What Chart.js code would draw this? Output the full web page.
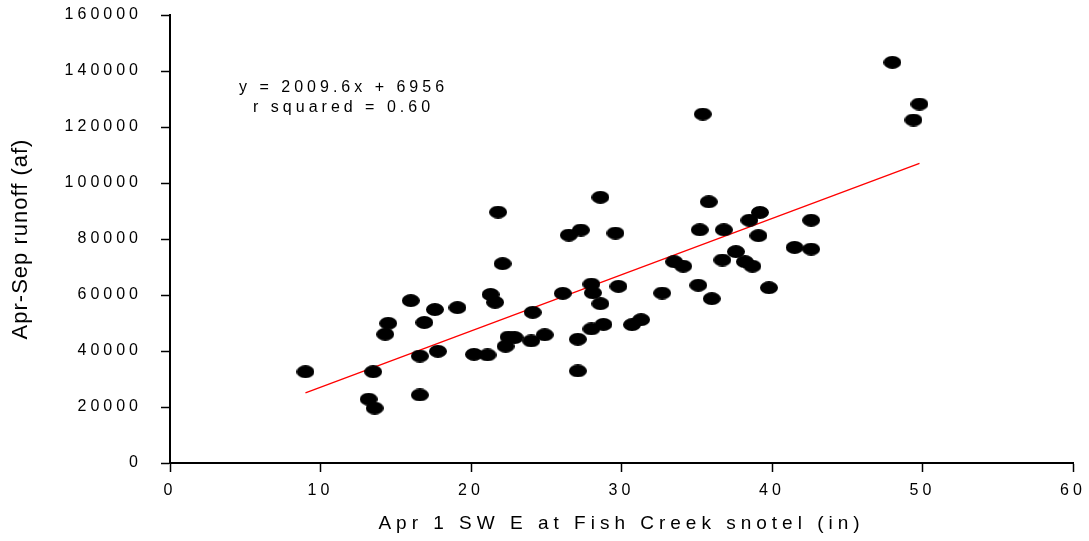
<!DOCTYPE html>
<html>
<head>
<meta charset="utf-8">
<title>Apr-Sep runoff vs Apr 1 SWE</title>
<script src="https://cdn.jsdelivr.net/npm/chart.js@4"></script>
<style>
    html, body { margin: 0; padding: 0; background: #fff; }
    #wrap { width: 1089px; height: 541px; position: relative; }
</style>
</head>
<body>
<div id="wrap"><canvas id="scatterChart"></canvas></div>
<script>
// --- Dữ liệu: SWE ngày 1/4 (in) và lưu lượng Apr-Sep (af) ---
const swe = [
    9.0, 13.2, 13.6, 13.5, 14.3, 14.5, 16.0, 16.6, 16.6, 16.9,
    17.6, 17.8, 19.1, 20.2, 21.1, 21.3, 21.6, 21.8, 22.1, 22.3,
    22.5, 22.9, 24.0, 24.1, 24.9, 26.1, 26.5, 27.1, 27.1, 27.3,
    28.6, 29.6, 28.0, 28.1, 28.6, 29.8, 28.0, 28.8, 30.7, 31.3,
    32.7, 33.5, 34.1, 35.1, 36.0, 35.2, 36.8, 35.8, 36.7, 37.6,
    38.2, 38.7, 38.5, 39.2, 39.1, 39.8, 41.5, 42.6, 42.6, 35.4,
    48.0, 49.8, 49.4
];
const runoff = [
    32600, 22800, 19600, 32600, 46000, 49900, 58000, 38200, 24300, 50200,
    54800, 39900, 55500, 38800, 38600, 60200, 57400, 89600, 71200, 41700,
    45000, 44800, 43600, 53800, 45800, 60600, 81400, 44200, 32900, 83200,
    94900, 82100, 63900, 60800, 56900, 63100, 47900, 49500, 49400, 51200,
    60700, 71900, 70300, 63500, 58700, 83300, 83300, 93300, 72500, 75500,
    71900, 70300, 86700, 89500, 81200, 62600, 77000, 76400, 86700, 124600,
    143100, 128200, 122500
];

// Đường hồi quy (theo phương trình ghi trên biểu đồ)
const slope = 2009.6;
const intercept = 6956;
const equationLines = ['y = 2009.6x + 6956', 'r squared = 0.60'];

// Trục
const xTicks = [0, 10, 20, 30, 40, 50, 60];
const yTicks = [0, 20000, 40000, 60000, 80000, 100000, 120000, 140000, 160000];

const FONT = "'Liberation Sans', Arial, sans-serif";

// Điểm hình elip màu đen
function makeEllipse(w, h) {
    const c = document.createElement('canvas');
    c.width = w;
    c.height = h;
    const g = c.getContext('2d');
    g.fillStyle = '#000';
    g.beginPath();
    g.ellipse(w / 2, h / 2, w / 2, h / 2, 0, 0, Math.PI * 2);
    g.fill();
    return c;
}
const dot = makeEllipse(18, 13);

const points = swe.map((x, i) => ({ x: x, y: runoff[i] }));
const xMin = Math.min(...swe);
const xMax = Math.max(...swe);
const fitLine = [xMin, xMax].map(x => ({ x: x, y: slope * x + intercept }));

// Giãn khoảng cách chữ cho nhãn trục / tiêu đề trục
const spacing = {
    x: { labels: '4px', title: '5px' },
    y: { labels: '4px', title: '1px' }
};
const letterSpacingPlugin = {
    id: 'letterSpacing',
    afterUpdate(chart) {
        const ctx = chart.ctx;
        Object.values(chart.scales).forEach(scale => {
            if (scale._spaced || !spacing[scale.id]) return;
            const s = spacing[scale.id];
            const origTitle = scale.drawTitle;
            const origLabels = scale.drawLabels;
            scale.drawTitle = function (...args) {
                ctx.save();
                ctx.letterSpacing = s.title;
                origTitle.apply(this, args);
                ctx.restore();
            };
            scale.drawLabels = function (...args) {
                ctx.save();
                ctx.letterSpacing = s.labels;
                origLabels.apply(this, args);
                ctx.restore();
            };
            scale._spaced = true;
        });
    }
};

// Phương trình + r² ở góc trên trái
const equationPlugin = {
    id: 'equation',
    afterDraw(chart) {
        const ctx = chart.ctx;
        const cx = chart.scales.x.getPixelForValue(11.4);
        const y1 = chart.scales.y.getPixelForValue(133900);
        ctx.save();
        ctx.letterSpacing = '4px';
        ctx.font = '16px ' + FONT;
        ctx.fillStyle = '#000';
        ctx.textAlign = 'center';
        ctx.textBaseline = 'middle';
        equationLines.forEach((t, i) => ctx.fillText(t, cx + 2, y1 + i * 20));
        ctx.restore();
    }
};

const ctx = document.getElementById('scatterChart').getContext('2d');
new Chart(ctx, {
    type: 'scatter',
    data: {
        datasets: [
            {
                label: 'Observed',
                data: points,
                pointStyle: dot,
                pointRadius: 8,
                showLine: false,
                order: 1
            },
            {
                type: 'line',
                label: 'Fit',
                data: fitLine,
                borderColor: '#ff0000',
                borderWidth: 1.3,
                pointRadius: 0,
                fill: false,
                order: 2
            }
        ]
    },
    options: {
        responsive: true,
        maintainAspectRatio: false,
        animation: false,
        layout: { autoPadding: false, padding: { top: 15, right: 16, left: 0, bottom: 0 } },
        plugins: {
            legend: { display: false },
            tooltip: { enabled: false }
        },
        scales: {
            x: {
                type: 'linear',
                min: 0,
                max: 60,
                afterBuildTicks: s => { s.ticks = xTicks.map(v => ({ value: v })); },
                afterFit: s => {
                    s.height = 78;
                    s.paddingLeft = 0;
                    s.paddingRight = 0;
                },
                grid: { display: true, drawOnChartArea: false, tickLength: 9, color: '#000', tickWidth: 1.5 },
                border: { display: true, color: '#000', width: 2 },
                ticks: {
                    color: '#000',
                    font: { family: FONT, size: 16 },
                    padding: 9,
                    maxRotation: 0
                },
                title: {
                    display: true,
                    text: 'Apr 1 SW E at Fish Creek snotel (in)',
                    color: '#000',
                    font: { family: FONT, size: 19 },
                    padding: { top: 0, bottom: 6 }
                }
            },
            y: {
                type: 'linear',
                min: 0,
                max: 160000,
                afterBuildTicks: s => { s.ticks = yTicks.map(v => ({ value: v })); },
                afterFit: s => {
                    s.width = 170;
                    s.paddingTop = 0;
                    s.paddingBottom = 0;
                },
                grid: { display: true, drawOnChartArea: false, tickLength: 9, color: '#000', tickWidth: 1.5 },
                border: { display: true, color: '#000', width: 2 },
                ticks: {
                    color: '#000',
                    font: { family: FONT, size: 16 },
                    padding: 19,
                    callback: v => String(v)
                },
                title: {
                    display: true,
                    text: 'Apr-Sep runoff (af)',
                    color: '#000',
                    font: { family: FONT, size: 22 },
                    padding: { top: 8, bottom: 0 }
                }
            }
        }
    },
    plugins: [letterSpacingPlugin, equationPlugin]
});
</script>
</body>
</html>
